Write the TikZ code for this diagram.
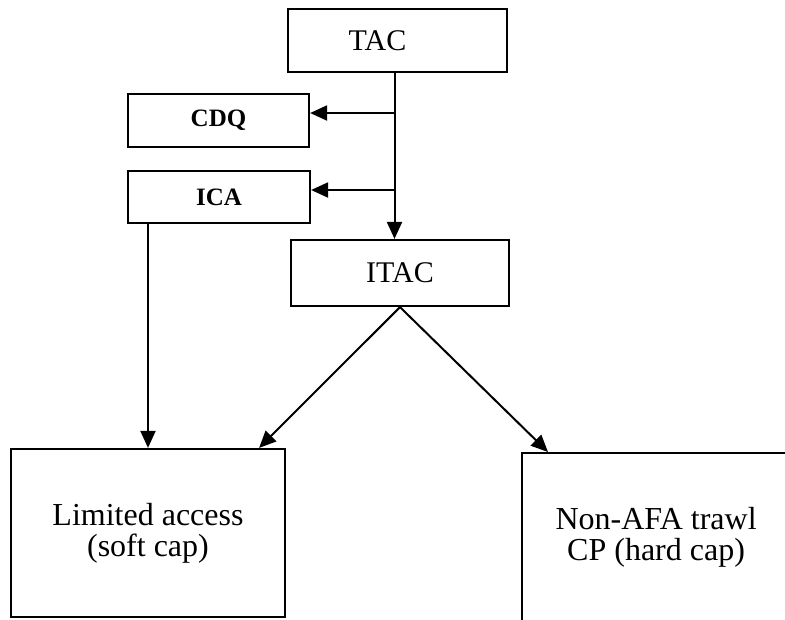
\documentclass[tikz,border=0pt]{standalone}
\usepackage{fontspec}
\setmainfont{Liberation Serif}
\usetikzlibrary{arrows.meta,calc}
\begin{document}
\begin{tikzpicture}[x=1pt,y=-1pt,
  box/.style={draw,line width=2.2pt,inner sep=0pt,align=center},
  midtext/.style={font=\fontsize{30}{33}\selectfont},
  smalltext/.style={font=\fontsize{25}{28}\selectfont\bfseries},
  bigtext/.style={font=\fontsize{32}{31}\selectfont},
  arr/.style={line width=2pt,-{Triangle[length=17pt,width=15pt]}}]
\useasboundingbox (0,0) rectangle (785,619);
\clip (0,0) rectangle (785,619);
\node[box,minimum width=219pt,minimum height=63pt,
  label={[midtext,xshift=-20pt]center:TAC}] (tac) at (397.5,40.5) {};
\node[box,smalltext,minimum width=181pt,minimum height=53pt] (cdq) at (218.5,120.5) {CDQ};
\node[box,smalltext,minimum width=182pt,minimum height=52pt] (ica) at (219,197) {ICA};
\node[box,midtext,minimum width=218pt,minimum height=66pt] (itac) at (400,273) {ITAC};
\node[box,bigtext,minimum width=274pt,minimum height=168pt] (lim) at (148,533) {Limited access\\(soft cap)};
\node[box,bigtext,minimum width=268pt,minimum height=168pt,anchor=north west] (non) at (521,452) {Non-AFA trawl\\CP (hard cap)};
\coordinate (top) at ([xshift=-3pt]tac.south);
\coordinate (j1) at (top |- 0,113);
\coordinate (j2) at (top |- 0,190);
\draw[arr] (top) -- (top |- itac.north);
\draw[arr] (j1) -- (cdq.east |- j1);
\draw[arr] (j2) -- (ica.east |- j2);
\draw[arr] (ica.south -| lim.north) -- (lim.north);
\draw[arr] (itac.south) -- ([xshift=-27pt]lim.north east);
\draw[arr] (itac.south) -- ([xshift=27pt]non.north west);
\end{tikzpicture}
\end{document}
